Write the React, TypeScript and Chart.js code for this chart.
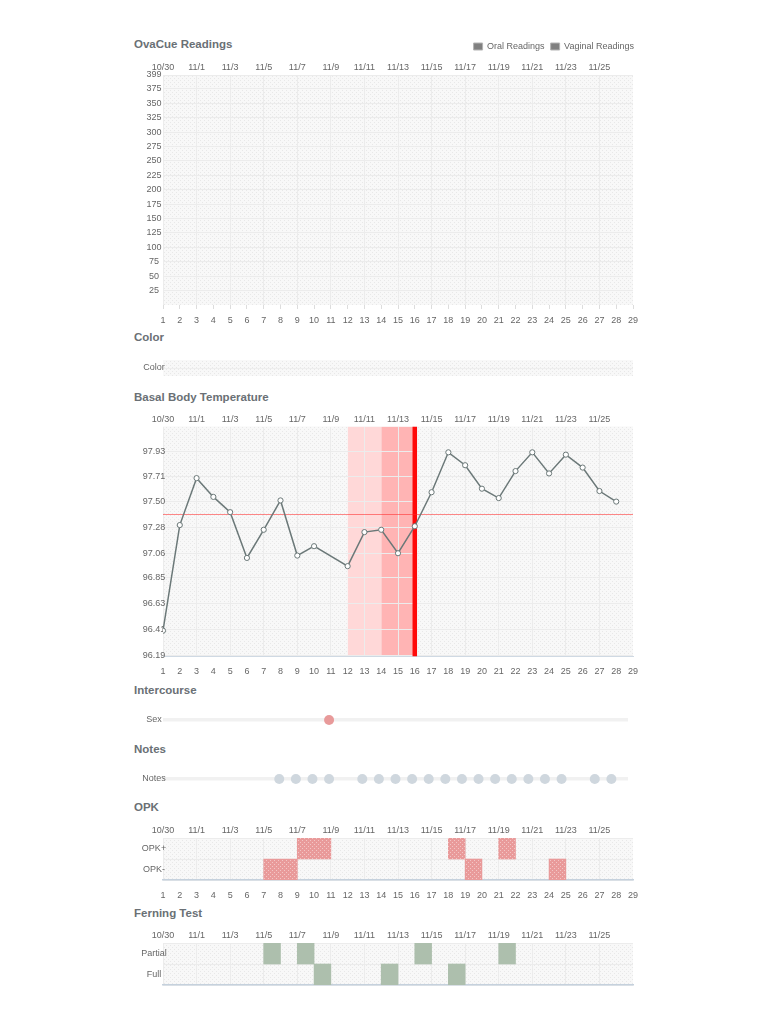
import React, { useEffect, useRef } from 'react';
import { Chart, registerables } from 'chart.js';

// ---------------- data ----------------
const dayTicks = [1, 2, 3, 4, 5, 6, 7, 8, 9, 10, 11, 12, 13, 14, 15, 16, 17, 18, 19, 20, 21, 22, 23, 24, 25, 26, 27, 28, 29];
const topDateDays = [1, 3, 5, 7, 9, 11, 13, 15, 17, 19, 21, 23, 25, 27];
const topDates = ['10/30', '11/1', '11/3', '11/5', '11/7', '11/9', '11/11', '11/13', '11/15', '11/17', '11/19', '11/21', '11/23', '11/25'];

const ovaSeries = ['Oral Readings', 'Vaginal Readings'];
const oralReadings: number[] = [];
const vaginalReadings: number[] = [];
const ovaTicks = [25, 50, 75, 100, 125, 150, 175, 200, 225, 250, 275, 300, 325, 350, 375, 399];
const ovaMax = 399;

const colorRows = ['Color'];

const bbtDays = [1, 2, 3, 4, 5, 6, 7, 8, 9, 10, 11, 12, 13, 14, 15, 16, 17, 18, 19, 20, 21, 22, 23, 24, 25, 26, 27, 28];
const bbtTemps: (number | null)[] = [96.40, 97.30, 97.70, 97.54, 97.41, 97.02, 97.26, 97.51, 97.04, 97.12, null, 96.95, 97.24, 97.26, 97.06, 97.29, 97.58, 97.92, 97.81, 97.61, 97.53, 97.76, 97.92, 97.74, 97.90, 97.79, 97.59, 97.50];
const bbtTickLabels = ['96.19', '96.41', '96.63', '96.85', '97.06', '97.28', '97.50', '97.71', '97.93'];
const bbtMin = 96.18;
const bbtMax = 98.14;
const coverline = 97.39;
const fertileStartDay = 12;
const peakStartDay = 14;
const ovulationDay = 16;

const sexRows = ['Sex'];
const sexDays = [11];
const notesRows = ['Notes'];
const notesDays = [8, 9, 10, 11, 13, 14, 15, 16, 17, 18, 19, 20, 21, 22, 23, 24, 25, 27, 28];

const opkRows = ['OPK+', 'OPK-'];
const opkPositive = [[9, 11], [18, 19], [21, 22]];
const opkNegative = [[7, 9], [19, 20], [24, 25]];

const ferningRows = ['Partial', 'Full'];
const ferningPartial = [[7, 8], [9, 10], [16, 17], [21, 22]];
const ferningFull = [[10, 11], [14, 15], [18, 19]];

// ---------------- style ----------------
const FONT = "'Liberation Sans', Arial, Helvetica, sans-serif";
const TICK_SIZE = 9;
const TICK_COLOR = '#666666';
const TITLE_COLOR = '#6a7075';
const GRID = '#ececec';
const AREA_LEFT = 163;
const LABEL_CENTER = 154;
const tickFont = { family: FONT, size: TICK_SIZE };

// plot-area dotted background, drawn before the grid
let bgPat: CanvasPattern | null = null;
function pattern(base: string, dot: string): CanvasPattern {
  const c = document.createElement('canvas');
  c.width = 4;
  c.height = 4;
  const g = c.getContext('2d')!;
  g.fillStyle = base;
  g.fillRect(0, 0, 4, 4);
  g.fillStyle = dot;
  g.fillRect(0, 0, 1, 1);
  g.fillRect(2, 2, 1, 1);
  return g.createPattern(c, 'repeat')!;
}
const areaBg = {
  id: 'areaBg',
  defaults: { enabled: false },
  beforeDraw(chart: any, _a: any, opts: any) {
    if (!opts || !opts.enabled) return;
    if (!bgPat) bgPat = pattern('#f8f8f8', '#e8e8e8');
    const { ctx, chartArea: a } = chart;
    ctx.save();
    ctx.fillStyle = bgPat;
    ctx.fillRect(a.left, a.top, a.right - a.left, a.bottom - a.top);
    ctx.restore();
  },
};
Chart.register(areaBg, ...registerables);

let mctx: CanvasRenderingContext2D | null = null;
function widest(labels: string[]): number {
  if (!mctx) mctx = document.createElement('canvas').getContext('2d');
  mctx!.font = `${TICK_SIZE}px ${FONT}`;
  return Math.max(...labels.map((l) => mctx!.measureText(l).width));
}
// mirrored, centred labels: centre = AREA_LEFT + padding + widest/2 = LABEL_CENTER
const labelPad = (labels: string[]) => LABEL_CENTER - AREA_LEFT - widest(labels) / 2;

const base = (right: number, top = 0, bottom = 0) => ({
  animation: false,
  responsive: false,
  maintainAspectRatio: false,
  events: [],
  layout: { padding: { left: 0, right, top, bottom } },
});

function topAxis(height: number) {
  return {
    type: 'linear',
    position: 'top',
    min: 1,
    max: 29,
    afterBuildTicks: (s: any) => {
      s.ticks = topDateDays.map((v) => ({ value: v }));
    },
    afterFit: (s: any) => {
      s.height = height;
    },
    grid: { color: GRID, drawTicks: false },
    border: { display: false },
    ticks: {
      font: tickFont,
      color: TICK_COLOR,
      padding: 2,
      maxRotation: 0,
      autoSkip: false,
      callback: (_v: any, i: number) => topDates[i],
    },
  };
}

function bottomAxis(height: number, mode: 'marks' | 'line' | 'bare', padding: number, borderColor = '#d3dce5', borderWidth = 1) {
  const marks = mode === 'marks';
  return {
    type: 'linear',
    position: 'bottom',
    min: 1,
    max: 29,
    afterBuildTicks: (s: any) => {
      s.ticks = dayTicks.map((v) => ({ value: v }));
    },
    afterFit: (s: any) => {
      s.height = height;
    },
    grid: {
      display: marks,
      drawOnChartArea: false,
      drawTicks: marks,
      tickLength: marks ? 4 : 0,
      color: '#dddddd',
    },
    border: { display: !marks, color: borderColor, width: borderWidth },
    ticks: {
      display: mode !== 'bare',
      font: tickFont,
      color: TICK_COLOR,
      padding,
      maxRotation: 0,
      autoSkip: false,
      callback: (v: any) => String(v),
    },
  };
}

function leftTicks(labels: string[], extra: any = {}) {
  return {
    font: tickFont,
    color: TICK_COLOR,
    mirror: true,
    crossAlign: 'center',
    padding: labelPad(labels),
    autoSkip: false,
    ...extra,
  };
}

function categoryAxis(labels: string[], gridOffset: boolean, grid: any = {}) {
  return {
    type: 'category',
    position: 'left',
    labels,
    offset: true,
    afterFit: (s: any) => {
      s.width = AREA_LEFT;
    },
    grid: { color: GRID, drawTicks: false, offset: gridOffset, ...grid },
    border: { display: false },
    ticks: leftTicks(labels),
  };
}

const quiet = { legend: { display: false }, tooltip: { enabled: false } };

// ---------------- chart configs ----------------
function ovaConfig(): any {
  const labels = ovaTicks.map(String);
  return {
    type: 'line',
    data: {
      datasets: [
        { label: ovaSeries[0], data: oralReadings, backgroundColor: '#808080', borderColor: '#b4b4b4', borderWidth: 1 },
        { label: ovaSeries[1], data: vaginalReadings, backgroundColor: '#808080', borderColor: '#b4b4b4', borderWidth: 1 },
      ],
    },
    options: {
      ...base(130),
      plugins: {
        tooltip: { enabled: false },
        areaBg: { enabled: true },
        legend: {
          position: 'top',
          align: 'end',
          labels: { font: tickFont, color: TICK_COLOR, boxWidth: 9, boxHeight: 7, padding: 6 },
        },
      },
      scales: {
        x: bottomAxis(25, 'marks', 6),
        xTop: topAxis(14),
        y: {
          type: 'linear',
          position: 'left',
          min: 0,
          max: ovaMax,
          afterBuildTicks: (s: any) => {
            s.ticks = ovaTicks.map((v) => ({ value: v }));
          },
          afterFit: (s: any) => {
            s.width = AREA_LEFT;
          },
          grid: { color: GRID, drawTicks: false },
          border: { display: false },
          ticks: leftTicks(labels, { callback: (v: any) => String(v) }),
        },
        yR: {
          type: 'linear',
          position: 'right',
          grid: { display: false },
          border: { display: false },
          ticks: { display: false },
          afterFit: (s: any) => {
            s.width = 7;
          },
        },
      },
    },
  };
}

function colorConfig(): any {
  return {
    type: 'line',
    data: { datasets: [{ label: 'Color', data: [] }] },
    options: {
      ...base(137, 9, 7),
      plugins: { ...quiet, areaBg: { enabled: true } },
      scales: {
        x: { type: 'linear', min: 1, max: 29, display: false },
        y: categoryAxis(colorRows, false, { color: '#eeeeee' }),
      },
    },
  };
}

function bbtConfig(): any {
  const LINE = '#6b7878';
  return {
    type: 'line',
    data: {
      datasets: [
        {
          label: 'Basal Body Temperature',
          data: bbtDays.map((d, i) => ({ x: d, y: bbtTemps[i] })),
          borderColor: LINE,
          borderWidth: 1.5,
          pointRadius: 2.6,
          pointBorderWidth: 1,
          pointBackgroundColor: '#ffffff',
          pointBorderColor: LINE,
          spanGaps: true,
          tension: 0,
          fill: false,
        },
        {
          label: 'Coverline',
          data: [{ x: 1, y: coverline }, { x: 29, y: coverline }],
          borderColor: 'rgba(255,40,40,0.55)',
          borderWidth: 1,
          pointRadius: 0,
          fill: false,
        },
        {
          label: 'Ovulation',
          data: [{ x: ovulationDay, y: bbtMin }, { x: ovulationDay, y: bbtMax }],
          borderColor: '#ff0a0a',
          borderWidth: 4.5,
          pointRadius: 0,
          fill: false,
        },
        {
          label: 'Peak',
          data: [{ x: peakStartDay, y: bbtMax }, { x: ovulationDay, y: bbtMax }],
          borderColor: 'transparent',
          borderWidth: 0,
          pointRadius: 0,
          fill: 'start',
          backgroundColor: '#ffb4b4',
        },
        {
          label: 'Fertile',
          data: [{ x: fertileStartDay, y: bbtMax }, { x: peakStartDay, y: bbtMax }],
          borderColor: 'transparent',
          borderWidth: 0,
          pointRadius: 0,
          fill: 'start',
          backgroundColor: '#ffd8d8',
        },
      ],
    },
    options: {
      ...base(137),
      plugins: { ...quiet, areaBg: { enabled: true }, filler: { drawTime: 'beforeDraw' } },
      scales: {
        x: bottomAxis(23.5, 'line', 10, '#cfd9e3', 1),
        xTop: topAxis(21.5),
        y: {
          type: 'linear',
          position: 'left',
          min: bbtMin,
          max: bbtMax,
          afterBuildTicks: (s: any) => {
            s.ticks = bbtTickLabels.map((v) => ({ value: parseFloat(v) }));
          },
          afterFit: (s: any) => {
            s.width = AREA_LEFT;
          },
          grid: { color: GRID, drawTicks: false },
          border: { display: false },
          ticks: leftTicks(bbtTickLabels, { callback: (_v: any, i: number) => bbtTickLabels[i] }),
        },
      },
    },
  };
}

function dotsConfig(rows: string[], days: number[], color: string): any {
  return {
    type: 'line',
    data: {
      datasets: [
        {
          label: rows[0],
          data: days.map((d) => ({ x: d, y: rows[0] })),
          showLine: false,
          pointRadius: 5,
          pointBorderWidth: 0,
          pointBackgroundColor: color,
          borderColor: color,
        },
      ],
    },
    options: {
      ...base(142, 9, 9),
      plugins: { ...quiet },
      scales: {
        x: { type: 'linear', min: 1, max: 29, display: false },
        y: categoryAxis(rows, false, { color: '#f1f1f1', lineWidth: 3.5 }),
      },
    },
  };
}

function rangeBars(rows: string[], sets: number[][][], fill: any, bottomMode: 'line' | 'bare', bottomH: number): any {
  return {
    type: 'bar',
    data: {
      datasets: sets.map((ranges, k) => ({
        label: rows[k],
        data: ranges.map((r) => ({ y: rows[k], x: r })),
        backgroundColor: fill,
        borderWidth: 0,
        borderSkipped: false,
        grouped: false,
        categoryPercentage: 1,
        barPercentage: 1,
        xAxisID: 'x',
      })),
    },
    options: {
      ...base(137),
      indexAxis: 'y',
      plugins: { ...quiet, areaBg: { enabled: true } },
      scales: {
        x: bottomAxis(bottomH, bottomMode, 10.5, '#c5d1dd', 1.5),
        xTop: topAxis(20),
        y: categoryAxis(rows, true),
      },
    },
  };
}

// ---------------- components ----------------
function ChartCanvas({ top, height, make }: { top: number; height: number; make: () => any }) {
  const ref = useRef<HTMLCanvasElement>(null);
  useEffect(() => {
    const chart = new Chart(ref.current!, make());
    return () => chart.destroy();
  }, []);
  return (
    <canvas
      ref={ref}
      width={770}
      height={height}
      style={{ position: 'absolute', left: 0, top, width: 770, height, display: 'block' }}
    />
  );
}

function Heading({ text, y }: { text: string; y: number }) {
  return (
    <div
      style={{
        position: 'absolute',
        left: 134,
        top: y - 6,
        height: 16,
        lineHeight: '16px',
        font: `bold 11.5px ${FONT}`,
        color: TITLE_COLOR,
        whiteSpace: 'nowrap',
      }}
    >
      {text}
    </div>
  );
}

export default function App() {
  return (
    <div style={{ position: 'absolute', left: 0, top: 0, width: 770, height: 1024, background: '#fff', overflow: 'hidden' }}>
      <Heading text="OvaCue Readings" y={44} />
      <ChartCanvas top={36} height={294} make={ovaConfig} />

      <Heading text="Color" y={337} />
      <ChartCanvas top={351} height={32} make={colorConfig} />

      <Heading text="Basal Body Temperature" y={397} />
      <ChartCanvas top={405} height={275} make={bbtConfig} />

      <Heading text="Intercourse" y={690} />
      <ChartCanvas top={701} height={38} make={() => dotsConfig(sexRows, sexDays, '#e89a9a')} />

      <Heading text="Notes" y={749} />
      <ChartCanvas top={760} height={38} make={() => dotsConfig(notesRows, notesDays, '#cfd7de')} />

      <Heading text="OPK" y={807} />
      <ChartCanvas
        top={818}
        height={87}
        make={() => rangeBars(opkRows, [opkPositive, opkNegative], pattern('#e99a9a', '#f3c6c6'), 'line', 25)}
      />

      <Heading text="Ferning Test" y={913} />
      <ChartCanvas
        top={923}
        height={66}
        make={() => rangeBars(ferningRows, [ferningPartial, ferningFull], '#adbfad', 'bare', 4)}
      />
    </div>
  );
}
